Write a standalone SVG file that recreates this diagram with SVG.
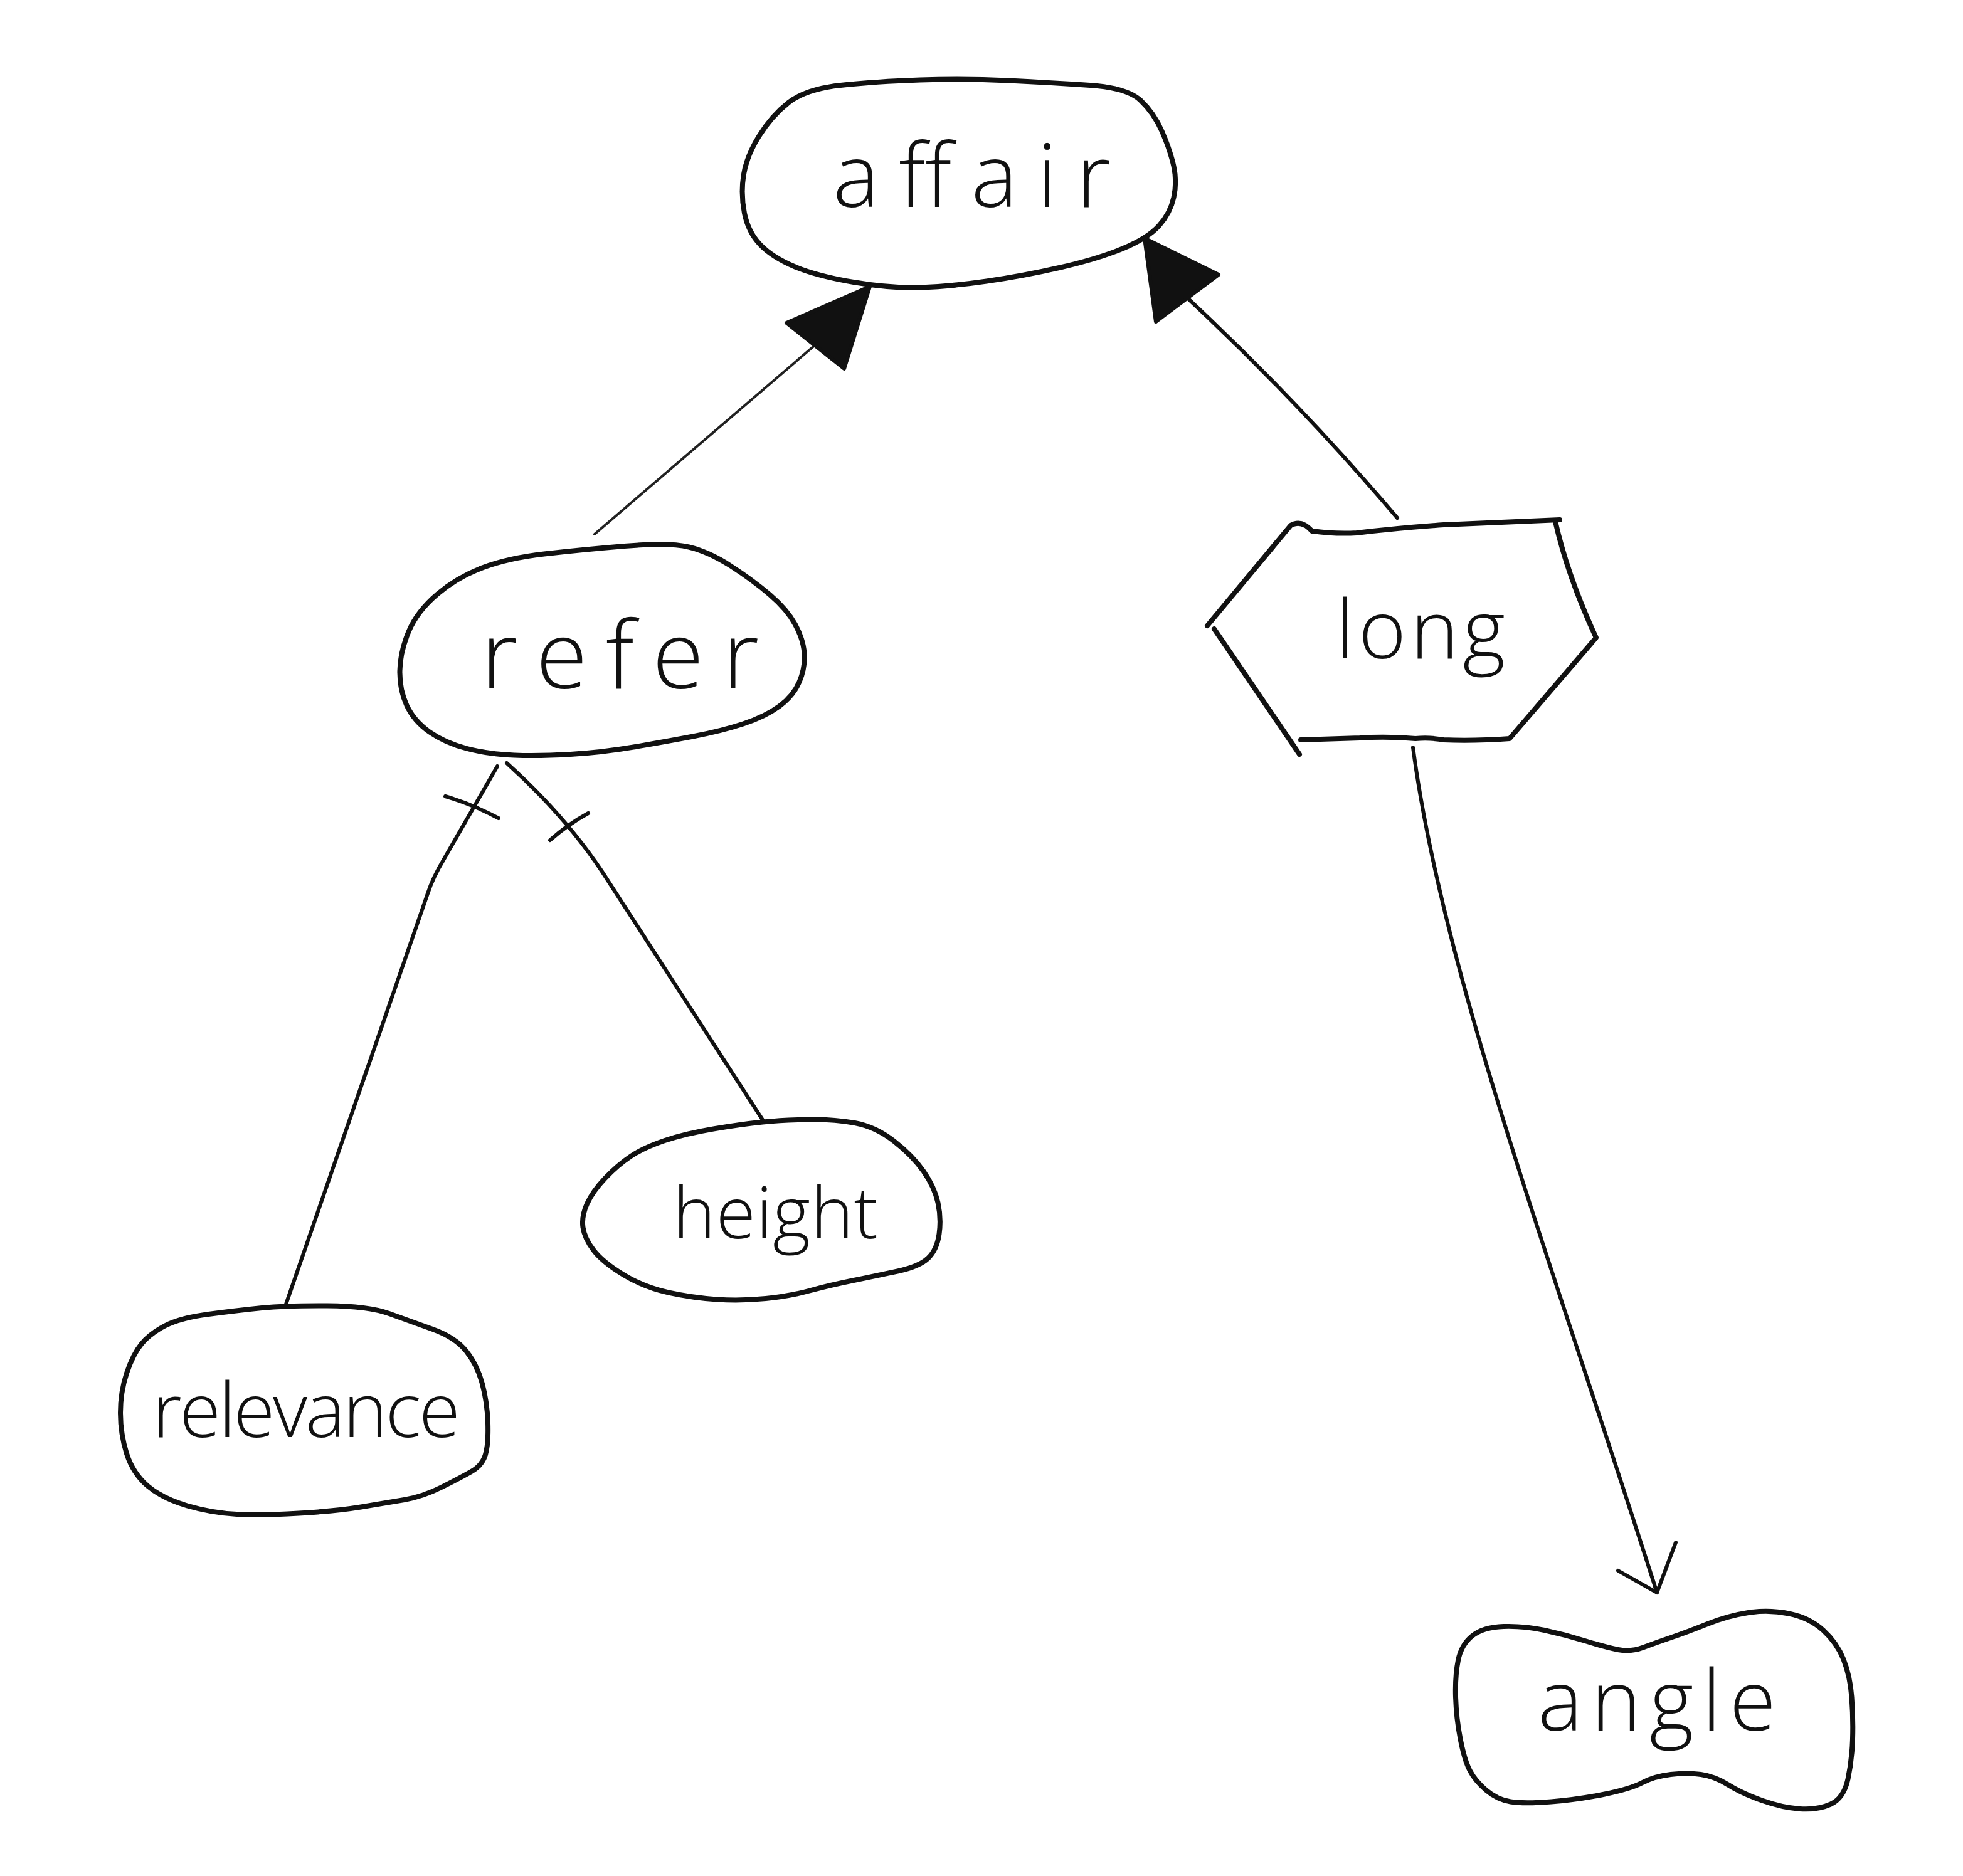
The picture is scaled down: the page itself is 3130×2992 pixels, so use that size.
<svg xmlns="http://www.w3.org/2000/svg" width="3130" height="2992" viewBox="0 0 3130 2992">
  <style>
    .outline { fill: none; stroke: #111; stroke-width: 8; stroke-linecap: round; stroke-linejoin: round; }
    .edge { fill: none; stroke: #111; stroke-width: 6; stroke-linecap: round; stroke-linejoin: round; }
    .thin { fill: none; stroke: #222; stroke-width: 4; stroke-linecap: round; }
    .head { fill: #111; stroke: #111; stroke-width: 6; stroke-linejoin: round; }
    .label { font-family: "Open Sans", "Liberation Sans", sans-serif; font-weight: 300; fill: #111; }
  </style>
  <rect width="3130" height="2992" fill="#ffffff"/>

  <!-- connectors -->
  <g id="connectors">
    <!-- refer -> affair (filled triangle head) -->
    <path class="thin" d="M948,852 L1300,550"/>
    <path class="head" d="M1387,457 L1254,515 L1346,588 Z"/>
    <!-- long -> affair (filled triangle head) -->
    <path class="edge" d="M2228,826 Q2070,640 1893,475"/>
    <path class="head" d="M1825,380 L1843,513 L1943,438 Z"/>
    <!-- refer - relevance (with bar) -->
    <path class="edge" d="M793,1222 L708,1370 Q690,1400 682,1425 L456,2080"/>
    <path class="edge" d="M710,1270 Q752,1282 795,1305"/>
    <!-- refer - height (with bar) -->
    <path class="edge" d="M808,1217 Q900,1300 960,1390 L1216,1786"/>
    <path class="edge" d="M877,1340 Q905,1315 938,1297"/>
    <!-- long -> angle (open head) -->
    <path class="edge" d="M2253,1192 C2300,1550 2470,2000 2642,2540"/>
    <path class="edge" d="M2580,2505 L2642,2540 L2672,2460"/>
  </g>

  <!-- affair -->
  <g id="node-affair">
    <path class="outline" d="M1340.5,136 Q1396,130 1467,127.5 Q1538,125 1608.5,128.5 Q1679,132 1738,136 Q1797,140 1818.5,160 Q1840,180 1853,210 Q1866,240 1871.5,265 Q1877,290 1871.5,315 Q1866,340 1848,360 Q1830,380 1790,396.5 Q1750,413 1691,426.5 Q1632,440 1573,448.5 Q1514,457 1467,458.5 Q1420,460 1361,450 Q1302,440 1266.5,425 Q1231,410 1212,390 Q1193,370 1187,340 Q1181,310 1185.5,280 Q1190,250 1210,217.5 Q1230,185 1257.5,163.5 Q1285,142 1340.5,136 Z"/>
    <text class="label" x="1328" y="330" font-size="140" textLength="443" lengthAdjust="spacing">affair</text>
  </g>

  <!-- refer -->
  <g id="node-refer">
    <path class="outline" d="M867.5,883.5 Q924,877 995.5,871 Q1067,865 1098.5,872.5 Q1130,880 1165,902.5 Q1200,925 1227.5,948.5 Q1255,972 1268,996 Q1281,1020 1282.5,1042.5 Q1284,1065 1274.5,1087.5 Q1265,1110 1242.5,1126.5 Q1220,1143 1185,1154.5 Q1150,1166 1105,1174.5 Q1060,1183 1010,1191.5 Q960,1200 910,1203 Q860,1206 820,1204.5 Q780,1203 745,1194 Q710,1185 685,1167.5 Q660,1150 648.5,1125 Q637,1100 637.5,1070 Q638,1040 651.5,1007.5 Q665,975 697.5,947.5 Q730,920 770.5,905 Q811,890 867.5,883.5 Z"/>
    <text class="label" x="767" y="1098" font-size="150" textLength="443" lengthAdjust="spacing">refer</text>
  </g>

  <!-- long -->
  <g id="node-long">
    <path class="outline" d="M1925,998 L2058,838 Q2075,828 2092,847 Q2130,852 2163,850 Q2230,842 2302,837 L2487,829"/>
    <path class="outline" d="M2480,832 Q2500,920 2545,1017 L2407,1178 Q2350,1182 2302,1180 Q2280,1176 2257,1178 Q2210,1174 2168,1177 L2074,1180"/>
    <path class="outline" d="M1936,1003 L2072,1203"/>
    <text class="label" x="2130" y="1050" font-size="130" textLength="270" lengthAdjust="spacing">long</text>
  </g>

  <!-- height -->
  <g id="node-height">
    <path class="outline" d="M1137.5,1800.5 Q1182,1793 1216,1789.5 Q1250,1786 1290,1785.5 Q1330,1785 1363,1791 Q1396,1797 1425.5,1820 Q1455,1843 1472.5,1868 Q1490,1893 1495.5,1918 Q1501,1943 1497.5,1968 Q1494,1993 1480,2006.5 Q1466,2020 1431,2027.5 Q1396,2035 1359,2042.5 Q1322,2050 1291,2058.5 Q1260,2067 1221,2071 Q1182,2075 1143.5,2072.5 Q1105,2070 1066,2061.5 Q1027,2053 994,2033 Q961,2013 946.5,1994 Q932,1975 929.5,1957.5 Q927,1940 936,1920 Q945,1900 965,1879 Q985,1858 1006,1844 Q1027,1830 1060,1819 Q1093,1808 1137.5,1800.5 Z"/>
    <text class="label" x="1073" y="1975" font-size="115" textLength="327" lengthAdjust="spacing">height</text>
  </g>

  <!-- relevance -->
  <g id="node-relevance">
    <path class="outline" d="M332.5,2096 Q378,2090 417.5,2086 Q457,2082 522,2082.5 Q587,2083 620.5,2095 Q654,2107 690,2120 Q726,2133 743.5,2155 Q761,2177 769,2207 Q777,2237 778,2270 Q779,2303 774,2320 Q769,2337 751.5,2347 Q734,2357 704,2372 Q674,2387 644.5,2392 Q615,2397 575.5,2403.5 Q536,2410 476.5,2413.5 Q417,2417 377.5,2415 Q338,2413 298.5,2401.5 Q259,2390 235.5,2370 Q212,2350 202,2318.5 Q192,2287 192,2253.5 Q192,2220 202,2190 Q212,2160 225.5,2143.5 Q239,2127 263,2114.5 Q287,2102 332.5,2096 Z"/>
    <text class="label" x="243" y="2292" font-size="120" textLength="491" lengthAdjust="spacing">relevance</text>
  </g>

  <!-- angle -->
  <g id="node-angle">
    <path class="outline" d="M2397.5,2594 Q2430,2593 2462.5,2600 Q2495,2607 2527.5,2617 Q2560,2627 2580,2631 Q2600,2635 2620,2627.5 Q2640,2620 2665,2611.5 Q2690,2603 2722.5,2590 Q2755,2577 2787.5,2572 Q2820,2567 2852.5,2573.5 Q2885,2580 2907,2600 Q2929,2620 2939.5,2646.5 Q2950,2673 2952.5,2706.5 Q2955,2740 2954,2773.5 Q2953,2807 2946.5,2837.5 Q2940,2868 2919,2877.5 Q2898,2887 2870,2885 Q2842,2883 2809.5,2871.5 Q2777,2860 2755.5,2846.5 Q2734,2833 2712,2830 Q2690,2827 2664,2830 Q2638,2833 2619,2843 Q2600,2853 2558.5,2861.5 Q2517,2870 2473.5,2873.5 Q2430,2877 2408.5,2873.5 Q2387,2870 2369.5,2855 Q2352,2840 2343.5,2823.5 Q2335,2807 2328.5,2773.5 Q2322,2740 2321,2706.5 Q2320,2673 2325,2648 Q2330,2623 2347.5,2609 Q2365,2595 2397.5,2594 Z"/>
    <text class="label" x="2452" y="2760" font-size="135" textLength="380" lengthAdjust="spacing">angle</text>
  </g>
</svg>
